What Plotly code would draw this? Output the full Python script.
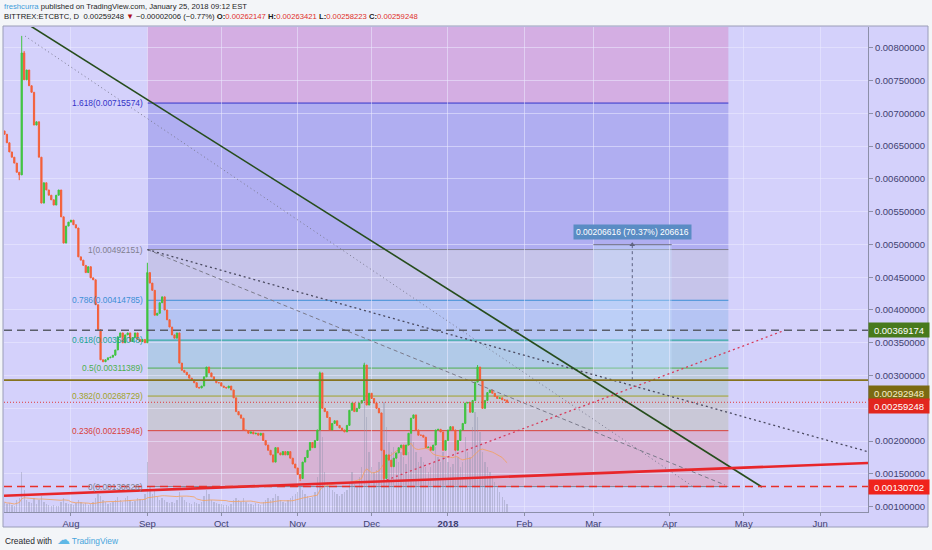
import pandas as pd
import plotly.graph_objects as go

# ---------------- data ----------------
start_date = "2017-07-05"
end_date = "2018-01-25"
dates = pd.date_range(start_date, end_date, freq="D")

# daily closes, in 1e-5 BTC
first_open_e5 = 673
close_e5 = [
    # Jul 5 - Jul 31
    668, 655, 641, 633, 624, 610, 606, 792, 751, 766, 742, 732, 682, 687, 633, 563, 594, 583, 575, 568,
    560, 575, 583, 542, 502, 528, 534,
    # Aug
    537, 530, 525, 481, 476, 468, 457, 466, 449, 446, 408, 370, 324, 321, 324, 327, 328, 331, 339, 359,
    365, 350, 362, 365, 352, 358, 365, 355, 352, 355, 350,
    # Sep
    457, 441, 430, 392, 395, 411, 420, 400, 385, 374, 362, 357, 365, 319, 308, 305, 301, 296, 293, 289,
    282, 281, 284, 298, 313, 304, 298, 293, 289, 289,
    # Oct
    284, 282, 281, 284, 278, 266, 245, 240, 235, 217, 216, 212, 214, 211, 212, 209, 212, 201, 194, 186,
    179, 168, 190, 182, 179, 184, 179, 184, 174, 165, 159,
    # Nov
    149, 143, 168, 175, 186, 198, 190, 201, 217, 304, 250, 245, 236, 217, 227, 231, 224, 220, 217, 214,
    224, 247, 258, 245, 250, 258, 262, 316, 255, 273,
    # Dec
    265, 258, 250, 243, 186, 143, 179, 171, 161, 174, 182, 190, 194, 179, 194, 212, 235, 240, 217, 209,
    209, 206, 190, 191, 186, 194, 217, 218, 214, 186, 201,
    # Jan 1 - Jan 25
    217, 222, 217, 186, 201, 217, 227, 258, 259, 244, 262, 290, 313, 293, 250, 262, 274, 278, 273, 268,
    265, 266, 263, 262.147, 259.248,
]
# notable wicks (1e-5 BTC)
wick_high_e5 = {"2017-07-12": 818, "2017-07-13": 795, "2017-09-01": 472, "2017-11-10": 306,
                "2017-11-28": 319, "2018-01-13": 316, "2018-01-25": 263.421}
wick_low_e5 = {"2017-07-11": 598, "2017-11-02": 139, "2017-12-06": 138, "2018-01-25": 258.223}

# volume (thousand ETC)
volume_k = [
    10, 8, 9, 7, 6, 12, 14, 40, 22, 12, 10, 9, 14, 8, 12, 16, 10, 8, 7, 6, 7, 6, 6, 10, 14, 9, 8,
    8, 7, 9, 12, 10, 8, 9, 7, 8, 10, 14, 18, 16, 12, 10, 8, 9, 10, 12, 15, 12, 10, 14, 16, 12, 10, 11, 14, 13, 12, 18,
    50, 25, 18, 22, 15, 12, 14, 12, 10, 9, 10, 9, 12, 20, 15, 12, 10, 9, 8, 10, 9, 8, 10, 16, 22, 18, 12, 10, 9, 8,
    8, 7, 7, 6, 8, 12, 14, 12, 10, 14, 10, 8, 8, 7, 9, 8, 7, 10, 12, 14, 12, 14, 18, 16, 12, 10, 9, 12, 14, 16, 18,
    20, 26, 22, 18, 16, 14, 15, 20, 35, 110, 75, 40, 30, 25, 22, 20, 18, 16, 18, 20, 22, 30, 40, 28, 25, 35, 45, 150, 95, 60,
    45, 40, 42, 50, 90, 110, 85, 70, 60, 65, 55, 50, 60, 55, 48, 60, 85, 70, 60, 50, 55, 50, 45, 40, 45, 50, 65, 55, 50, 60, 55,
    50, 45, 48, 70, 55, 45, 50, 75, 60, 55, 85, 100, 95, 80, 60, 50, 45, 40, 35, 30, 25, 20, 15, 12, 8,
]
volume_ma_len = 20

# Fibonacci retracement
fib_ratios = [0, 0.236, 0.382, 0.5, 0.618, 0.786, 1, 1.618, 2.618]
fib_prices = [0.00130626, 0.00215946, 0.00268729, 0.00311389, 0.00354048, 0.00414785,
              0.00492151, 0.00715574, 0.01077099]
fib_start = "2017-09-01"
fib_end = "2018-04-24 19:00"

# horizontal price lines and their axis tags (tags nudged apart as on the chart, in px)
hline_prices = [0.00369174, 0.00292948, 0.00259248, 0.00130702]
tag_nudge_px = [0, -13, -4, 0]

# drawn trend lines (two anchor points each)
solid_trend_dates = ["2017-07-15 14:00", "2018-05-08 10:00"]
solid_trend_prices = [0.008331, 0.001300]
peak_dotted_dates = ["2017-07-13 08:00", "2018-04-10 13:00"]
peak_dotted_prices = [0.008178, 0.0013049]
fan_dotted_dates = ["2017-09-01", "2018-06-20 11:00"]
fan_dotted_prices = [0.00492151, 0.0018385]
fan_dashed_dates = ["2017-09-01", "2018-04-23 10:00"]
fan_dashed_prices = [0.00492151, 0.001331]
rise_dotted_dates = ["2017-12-07 02:00", "2018-05-17 19:00"]
rise_dotted_prices = [0.001407, 0.00369174]
support_dates = ["2017-07-04 19:30", "2018-06-20 11:00"]
support_prices = [0.0011677, 0.0016671]

# price-range measurement
measure_dates = ["2018-03-01", "2018-03-16 19:00", "2018-04-01 19:00"]
measure_prices = [0.00292948, 0.00499564]
measure_text = "0.00206616 (70.37%) 206616"

# axes
x_range = ["2017-07-04 19:30", "2018-06-20 11:00"]
y_range = [0.0009189, 0.0083157]
tick_dates = ["2017-08-01", "2017-09-01", "2017-10-01", "2017-11-01", "2017-12-01", "2018-01-01",
              "2018-02-01", "2018-03-01", "2018-04-01", "2018-05-01", "2018-06-01"]
tick_text = ["Aug", "Sep", "Oct", "Nov", "Dec", "<b>2018</b>", "Feb", "Mar", "Apr", "May", "Jun"]
price_ticks = [0.0010, 0.0015, 0.0020, 0.0025, 0.0030, 0.0035, 0.0040, 0.0045, 0.0050,
               0.0055, 0.0060, 0.0065, 0.0070, 0.0075, 0.0080]
hidden_price_ticks = [0.0025]   # covered by the price tags on the chart

# ---------------- build ----------------
FONT = "Liberation Sans, Arial, sans-serif"
BG = "#d4d1fb"

scale = 1e-5
closes = [c * scale for c in close_e5]
opens = [first_open_e5 * scale] + closes[:-1]
highs, lows = [], []
for d, o, c in zip(dates, opens, closes):
    key = d.strftime("%Y-%m-%d")
    highs.append(max(o, c, wick_high_e5.get(key, 0) * scale))
    lows.append(min(o, c, wick_low_e5.get(key, 1e9) * scale))

vol_ma = pd.Series(volume_k).rolling(volume_ma_len, min_periods=1).mean()

fig = go.Figure()

# volume (main y axis, hidden)
fig.add_trace(go.Bar(x=dates, y=volume_k, marker=dict(color="rgba(140,145,170,0.40)", line=dict(width=0)),
                     width=86400000 * 0.55, yaxis="y", hoverinfo="skip", showlegend=False))
fig.add_trace(go.Scatter(x=dates, y=vol_ma, mode="lines", line=dict(color="rgba(245,160,90,0.8)", width=1),
                         yaxis="y", hoverinfo="skip", showlegend=False))

# candles
fig.add_trace(go.Candlestick(
    x=dates, open=opens, high=highs, low=lows, close=closes, yaxis="y2",
    increasing=dict(line=dict(color="#3fc43f", width=1), fillcolor="#3fc43f"),
    decreasing=dict(line=dict(color="#f4603a", width=1), fillcolor="#f4603a"),
    whiskerwidth=0, showlegend=False))

shapes = []
# container background / frame
shapes.append(dict(type="rect", xref="paper", yref="paper", x0=-1 / 864, x1=924 / 864,
                   y0=-15 / 485, y1=486 / 485, fillcolor=BG, line=dict(color="#9a9db8", width=1), layer="below"))

# fib bands
band_colors = ["rgba(230,60,60,0.20)", "rgba(150,160,40,0.17)", "rgba(76,175,80,0.17)",
               "rgba(22,170,150,0.18)", "rgba(61,143,214,0.20)", "rgba(140,140,160,0.18)",
               "rgba(51,51,204,0.22)", "rgba(214,64,150,0.24)"]
fib_colors = ["#80808f", "#d9403a", "#9fa32a", "#4caf50", "#19a394", "#3d8fd6", "#80808f", "#3434c8", "#d640a0"]
for i in range(len(fib_prices) - 1):
    shapes.append(dict(type="rect", xref="x", yref="y2", x0=fib_start, x1=fib_end,
                       y0=fib_prices[i], y1=min(fib_prices[i + 1], y_range[1]),
                       fillcolor=band_colors[i], line=dict(width=0), layer="below"))
for i in range(len(fib_prices) - 1):
    shapes.append(dict(type="line", xref="x", yref="y2", x0=fib_start, x1=fib_end,
                       y0=fib_prices[i], y1=fib_prices[i], line=dict(color=fib_colors[i], width=1), layer="below"))

# measurement box
shapes.append(dict(type="rect", xref="x", yref="y2", x0=measure_dates[0], x1=measure_dates[2],
                   y0=measure_prices[0], y1=measure_prices[1], fillcolor="rgba(200,230,255,0.35)",
                   line=dict(width=0), layer="below"))
shapes.append(dict(type="line", xref="x", yref="y2", x0=measure_dates[0], x1=measure_dates[2],
                   y0=measure_prices[1], y1=measure_prices[1], line=dict(color="#6a6a80", width=1)))
shapes.append(dict(type="line", xref="x", yref="y2", x0=measure_dates[1], x1=measure_dates[1],
                   y0=measure_prices[0], y1=measure_prices[1], line=dict(color="#5a6080", width=1, dash="3px,3px")))

# horizontal lines
hline_styles = [("#5a5e6a", 1.6, "8px,5px"), ("#86731e", 1.6, "solid"),
                ("#e03a3a", 1, "1px,2px"), ("#e8302a", 1.6, "8px,5px")]
for p, (col, w, dash) in zip(hline_prices, hline_styles):
    shapes.append(dict(type="line", xref="paper", yref="y2", x0=0, x1=1, y0=p, y1=p,
                       line=dict(color=col, width=w, dash=dash), layer="above"))

# trend lines as traces
def add_line(xs, ys, color, width, dash):
    fig.add_trace(go.Scatter(x=xs, y=ys, mode="lines", yaxis="y2", hoverinfo="skip", showlegend=False,
                             line=dict(color=color, width=width, dash=dash)))

add_line(peak_dotted_dates, peak_dotted_prices, "#7a7a90", 1, "1px,3px")
add_line(fan_dashed_dates, fan_dashed_prices, "#7a7a8a", 1, "4px,3px")
add_line(fan_dotted_dates, fan_dotted_prices, "#4a4a60", 1.3, "2px,3px")
add_line(rise_dotted_dates, rise_dotted_prices, "#d83a5a", 1.3, "2px,3px")
add_line(solid_trend_dates, solid_trend_prices, "#264d1c", 1.6, "solid")
add_line(support_dates, support_prices, "#e8262a", 2.6, "solid")

fig.add_trace(go.Scatter(x=[measure_dates[1]], y=[measure_prices[1]], mode="markers", yaxis="y2",
                         marker=dict(symbol="triangle-up", size=5, color="#5a6080"),
                         hoverinfo="skip", showlegend=False))

annotations = []
# fib labels
for r, p, col in zip(fib_ratios[:-1], fib_prices[:-1], fib_colors[:-1]):
    annotations.append(dict(x=fib_start, y=p, xref="x", yref="y2", xanchor="right", yanchor="middle",
                            xshift=-2, text=f"{r:g}({p:.8f})", showarrow=False,
                            font=dict(family=FONT, size=8.4, color=col)))

# price axis tags
tag_styles = [("#487a1c", "#ffffff"), ("#7b6a12", "#f7efc8"), ("#e2261e", "#ffffff"), ("#f0231c", "#ffffff")]
for p, (bg, fc), dy in zip(hline_prices, tag_styles, tag_nudge_px):
    annotations.append(dict(x=1, y=p, xref="paper", yref="y2", xanchor="left", yanchor="middle",
                            yshift=dy, text=f"{p:.8f}", showarrow=False, bgcolor=bg, width=58, height=12,
                            align="center", borderpad=1, font=dict(family=FONT, size=9.5, color=fc)))

# measurement label
annotations.append(dict(x=measure_dates[1], y=measure_prices[1], xref="x", yref="y2", yanchor="bottom",
                        yshift=5, text=measure_text, showarrow=False, bgcolor="#5a8cc4", borderpad=2,
                        font=dict(family=FONT, size=8.5, color="#ffffff")))

# header
annotations.append(dict(x=0, y=(512 - 6.7) / 485, xref="paper", yref="paper", xanchor="left", yanchor="middle",
                        xshift=-2, showarrow=False,
                        text='<span style="color:#3f9ddb">freshcurra</span> published on TradingView.com, January 25, 2018 09:12 EST',
                        font=dict(family=FONT, size=7.7, color="#1e1e26")))
red = "#e0302a"
hdr2 = ("BITTREX:ETCBTC, D  0.00259248 <span style='color:#b0101a'>▼</span> −0.00002006 (−0.77%) "
        f"<b>O:</b><span style='color:{red}'>0.00262147</span> <b>H:</b><span style='color:{red}'>0.00263421</span> "
        f"<b>L:</b><span style='color:{red}'>0.00258223</span> <b>C:</b><span style='color:{red}'>0.00259248</span>")
annotations.append(dict(x=0, y=(512 - 16.9) / 485, xref="paper", yref="paper", xanchor="left", yanchor="middle",
                        xshift=-2, showarrow=False, text=hdr2, font=dict(family=FONT, size=7.7, color="#1a1a20")))

# footer
annotations.append(dict(x=0, y=(512 - 539.5) / 485, xref="paper", yref="paper", xanchor="left", yanchor="middle",
                        xshift=-1, showarrow=False,
                        text="Created with  <span style='color:#5fb8e6;font-size:13px'>☁</span> <span style='color:#48a5dc'>TradingView</span>",
                        font=dict(family=FONT, size=8.4, color="#26262c")))

price_text = ["" if t in hidden_price_ticks else f"{t:.8f}" for t in price_ticks]

fig.update_layout(
    width=932, height=550, autosize=False,
    margin=dict(l=4, r=64, t=27, b=38, pad=0),
    paper_bgcolor="#f3f5f8", plot_bgcolor=BG,
    shapes=shapes, annotations=annotations,
    showlegend=False, bargap=0,
    xaxis=dict(type="date", range=x_range, rangeslider=dict(visible=False),
               tickvals=tick_dates, ticktext=tick_text, showgrid=True,
               gridcolor="rgba(235,235,255,0.55)", gridwidth=1,
               showline=True, linecolor="#8c8fa8", linewidth=1,
               ticks="outside", ticklen=3, tickcolor="#8c8fa8",
               tickfont=dict(family=FONT, size=9.5, color="#3f4270"), zeroline=False),
    yaxis=dict(range=[0, 485], visible=False, showgrid=False, fixedrange=True),
    yaxis2=dict(overlaying="y", side="right", anchor="x", range=y_range,
                tickvals=price_ticks, ticktext=price_text, showgrid=True,
                gridcolor="rgba(235,235,255,0.55)", gridwidth=1,
                showline=True, linecolor="#8c8fa8", linewidth=1,
                ticks="outside", ticklen=4, tickcolor="#8c8fa8",
                tickfont=dict(family=FONT, size=9.5, color="#3f4270"), zeroline=False),
)

fig.write_html("out.html", config={"displayModeBar": False},
               post_script="document.body.style.margin='0';document.body.style.background='#f3f5f8';")
